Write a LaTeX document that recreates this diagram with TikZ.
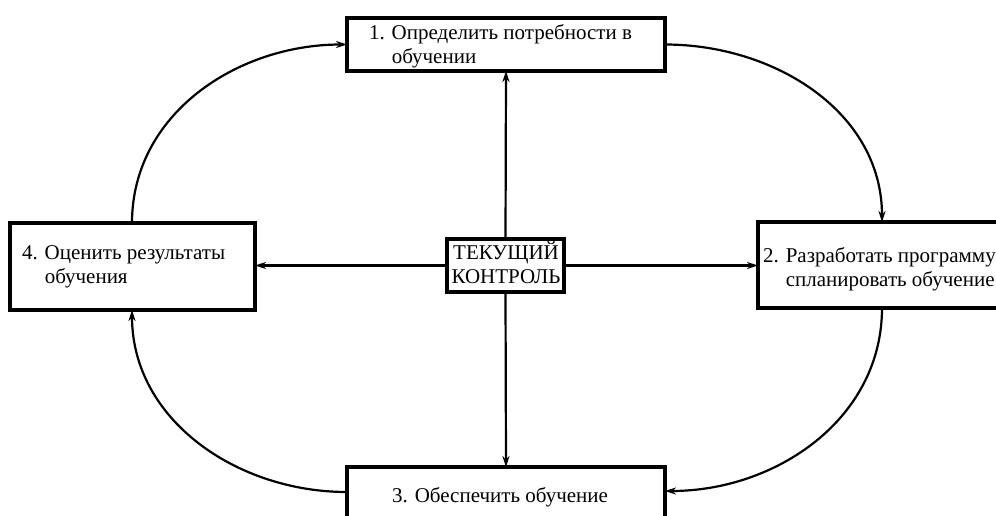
\documentclass[tikz,border=0pt]{standalone}
\usepackage{fontspec}
\setmainfont{Liberation Serif}
\usetikzlibrary{arrows.meta}
\begin{document}
\begin{tikzpicture}[x=1pt,y=-1pt,
  box/.style={draw,line width=3.2pt,inner sep=0pt,outer sep=0pt},
  lbl/.style={inner sep=0pt,outer sep=0pt,align=left,font=\fontsize{21}{24}\selectfont},
  conn/.style={line width=2.2pt,-{Stealth[length=11pt,width=7pt]}}]
\useasboundingbox (0,0) rectangle (996,515);
\clip (0,0) rectangle (996,515);
% boxes
\node[box,minimum width=318pt,minimum height=53pt] (b1) at (506,44.5) {};
\node[box,minimum width=260pt,minimum height=86pt] (b2) at (888,265) {};
\node[box,minimum width=318pt,minimum height=80pt] (b3) at (506,507) {};
\node[box,minimum width=245pt,minimum height=87pt] (b4) at (132.5,266.5) {};
\node[box,minimum width=117pt,minimum height=53pt] (bc) at (505.5,265.5) {};
% texts (anchor on the last line's baseline)
\node[lbl,anchor=base west] (t1) at (369,63) {1. Определить потребности в\\\phantom{1. }обучении};
\node[lbl,anchor=base west] (t2) at (763,286) {2. Разработать программу\\\phantom{2. }спланировать обучение};
\node[lbl,anchor=base] (t3) at (500,502) {3. Обеспечить обучение};
\node[lbl,anchor=base west] (t4) at (22,283) {4. Оценить результаты\\\phantom{4. }обучения};
\node[lbl,anchor=base,align=center] (tc) at (506,283) {ТЕКУЩИЙ\\КОНТРОЛЬ};
% straight connectors
\draw[conn] (bc.north) -- (b1.south);
\draw[conn] (bc.south) -- (b3.north);
\draw[conn] (bc.west) -- (bc.west -| b4.east);
\draw[conn] (bc.east) -- (bc.east -| b2.west);
% curved connectors
\draw[conn] ([xshift=122pt]b4.north west) to[out=90,in=180] (b1.west);
\draw[conn] (b1.east) to[out=0,in=90] ([xshift=124pt]b2.north west);
\draw[conn] ([xshift=124pt]b2.south west) to[out=-90,in=0] ([yshift=-24pt]b3.north east);
\draw[conn] ([yshift=-25pt]b3.north west) to[out=180,in=-90] ([xshift=122pt]b4.south west);
\end{tikzpicture}
\end{document}
